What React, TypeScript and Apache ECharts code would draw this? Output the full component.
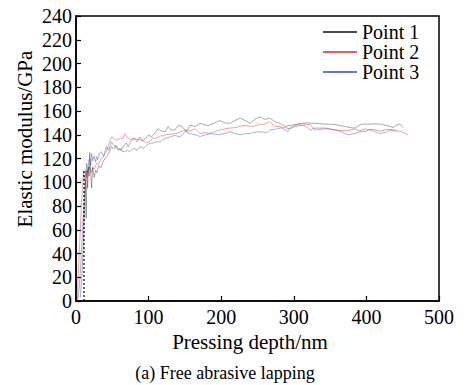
import React, { useEffect, useRef } from "react";
import * as echarts from "echarts";

const seriesNames = ["Point 1", "Point 2", "Point 3"];

const depth1 = [6, 8, 10, 12, 13, 14, 15, 16, 17, 18, 19, 20, 21.5, 23, 25, 27, 29, 31, 34, 37, 40, 43, 46, 49, 52, 55, 58, 62, 65, 69, 72, 76, 80, 84, 88, 92, 96, 100, 104, 108, 113, 118, 123, 127, 131, 136, 141, 146, 152, 157, 164, 171, 178, 184, 191, 198, 205, 212, 219, 226, 233, 240, 246, 253, 260, 267, 274, 281, 288, 295, 302, 309, 316, 323, 329, 336, 343, 350, 357, 364, 371, 378, 384, 390, 395, 405, 412, 419, 426, 433, 437, 441, 446, 451];
const modulus1 = [3, 20, 45, 80, 102, 70, 110, 95, 113, 105, 125, 108, 95, 112, 104, 110, 108, 114, 112, 117, 120, 122, 126, 130, 128, 131, 128, 127, 130, 133, 130, 135, 137, 134, 138, 135, 137, 140, 138, 141, 145, 143, 142.6, 147, 144, 144, 148, 147, 142.6, 148, 147, 149.6, 148, 148, 150, 152, 150, 149.6, 152, 154, 152, 149.6, 153, 155, 153, 154, 151, 149.6, 147, 148, 148.6, 149.5, 150, 149.8, 149.6, 149.3, 149, 148.8, 148.6, 147.6, 147, 146, 145.6, 148, 149, 149, 149.2, 149, 148, 147, 146, 148, 149, 146];

const depth2 = [1, 3, 5, 7, 9, 10.6, 12, 13.5, 15, 17, 19, 21, 23, 25, 28.5, 31, 34, 37.6, 41, 44.5, 47, 49, 51, 54, 58, 61, 65, 67, 70, 74, 78, 81, 85, 88, 92, 95, 97, 102, 106, 109, 113, 116, 120, 123, 130, 136, 143, 150, 157, 164, 171, 178, 184, 191, 198, 205, 212, 219, 226, 233, 240, 246, 253, 260, 267, 274, 281, 288, 292, 295, 302, 309, 316, 323, 329, 336, 343, 350, 357, 364, 371, 378, 384, 391, 398, 405, 412, 419, 426, 433, 440, 446, 452, 457];
const modulus2 = [0, 20, 48, 75, 98, 109, 102, 110, 104, 110, 113, 108, 113, 111, 116, 115, 119, 121.5, 125, 130, 135.6, 138, 138, 135.6, 136, 137, 137, 141, 138, 136, 136.5, 137, 136, 136, 135, 134, 133, 135, 137, 137, 138, 139, 139, 140, 140.5, 141, 142, 144, 143, 145, 141, 142, 141, 142.5, 144, 145, 145.6, 146, 147, 148, 147, 147.5, 148.6, 149, 151, 147, 147, 144, 142.6, 146, 148, 149, 148.8, 148.6, 144, 144.5, 145, 144.6, 144, 143.4, 143.6, 144, 145, 143, 145, 144, 142.5, 141, 142, 144, 143, 143, 141.5, 140];

const depth3 = [2, 4.6, 6.5, 8.3, 10, 12, 13.8, 14.7, 16, 17.5, 19, 20.5, 21.6, 23, 25, 27, 28.5, 30, 32, 35, 38, 42, 45, 49, 52, 55, 58, 60.6, 64, 67, 71, 74, 79, 84, 88, 93, 97, 102, 106, 109, 113, 116, 120, 123, 129, 136, 143, 150, 157, 164, 171, 178, 184, 191, 198, 205, 212, 219, 226, 233, 240, 244, 253, 260, 263, 267, 274, 281, 288, 295, 302, 309, 316, 322, 329, 336, 343, 350, 357, 364, 371, 375, 384, 391, 398, 405, 414, 419, 428, 437, 442];
const modulus3 = [0, 12, 30, 51, 72, 93, 110, 116, 108, 118, 120, 114, 124, 118, 122, 117, 121.5, 119, 124, 125.7, 122, 130, 127, 134, 131, 130, 127, 128.6, 126, 125.7, 127, 125.7, 128.6, 127, 130, 128.6, 131, 133, 132.8, 134, 134, 134, 136, 137, 138, 139.6, 138, 142.6, 141, 140, 138.5, 140, 141, 140.5, 140, 141, 142.6, 141, 140, 141, 141, 142, 142.6, 142, 141.7, 144, 144.6, 145.6, 146, 145, 147, 147.8, 147.6, 144, 145.6, 145.6, 145.6, 145, 144, 143, 141, 140, 141, 142.5, 142.6, 144.6, 144, 143, 144.6, 144, 144];

const markerDepth = [11, 11];
const markerModulus = [0, 110];

const xTicks = { min: 0, max: 500, interval: 100 };
const yTicks = { min: 0, max: 240, interval: 20 };

const colors = ["#111111", "#e8262a", "#2b4fb5"];

const zip = (xs: number[], ys: number[]) => xs.map((x, i) => [x, ys[i]]);

const FONT = "Liberation Serif";

export default function App() {
  const ref = useRef<HTMLDivElement>(null);
  useEffect(() => {
    document.body.style.margin = "0";
    const chart = echarts.init(ref.current!, null, { renderer: "svg" });
    const data = [zip(depth1, modulus1), zip(depth2, modulus2), zip(depth3, modulus3)];
    const axisCommon = {
      axisLine: { show: true, lineStyle: { color: "#000", width: 1.5 } },
      axisTick: { show: true, inside: true, length: 5, lineStyle: { color: "#000", width: 1.2 } },
      axisLabel: { color: "#000", fontSize: 20, fontFamily: FONT },
      splitLine: { show: false },
    };
    chart.setOption({
      animation: false,
      backgroundColor: "#fff",
      textStyle: { fontFamily: FONT },
      grid: { left: 76, right: 28, top: 16, bottom: 84, show: true, borderColor: "#000", borderWidth: 1.5 },
      xAxis: {
        type: "value",
        ...xTicks,
        ...axisCommon,
        axisLabel: { ...axisCommon.axisLabel, margin: 6 },
      },
      yAxis: {
        type: "value",
        ...yTicks,
        ...axisCommon,
        axisLabel: { ...axisCommon.axisLabel, margin: 4 },
      },
      legend: {
        orient: "vertical",
        left: 318,
        top: 17,
        icon: "rect",
        itemWidth: 34,
        itemHeight: 1.6,
        itemGap: 0,
        data: seriesNames,
        textStyle: { color: "#000", fontSize: 20, fontFamily: FONT, lineHeight: 18 },
      },
      graphic: [
        {
          type: "text",
          x: 25,
          y: 139,
          rotation: Math.PI / 2,
          style: { text: "Elastic modulus/GPa", fontSize: 21, fontFamily: FONT, fill: "#000", align: "center", verticalAlign: "middle" },
        },
        {
          type: "text",
          x: 250,
          y: 342,
          style: { text: "Pressing depth/nm", fontSize: 21, fontFamily: FONT, fill: "#000", align: "center", verticalAlign: "middle" },
        },
        {
          type: "text",
          x: 225,
          y: 373,
          style: { text: "(a) Free abrasive lapping", fontSize: 18, fontFamily: FONT, fill: "#000", align: "center", verticalAlign: "middle" },
        },
      ],
      series: [
        ...seriesNames.map((name, i) => ({
          name,
          type: "line",
          data: data[i],
          symbol: "none",
          color: colors[i],
          lineStyle: { width: 0.8, color: colors[i], opacity: i === 0 ? 0.45 : 0.55 },
          z: 3 - i,
        })),
        {
          name: "marker",
          type: "line",
          data: zip(markerDepth, markerModulus),
          symbol: "none",
          lineStyle: { width: 1.2, color: "#000", type: [2, 2] },
          z: 5,
        },
      ],
    });
    return () => chart.dispose();
  }, []);
  return <div ref={ref} style={{ width: 467, height: 385 }} />;
}
